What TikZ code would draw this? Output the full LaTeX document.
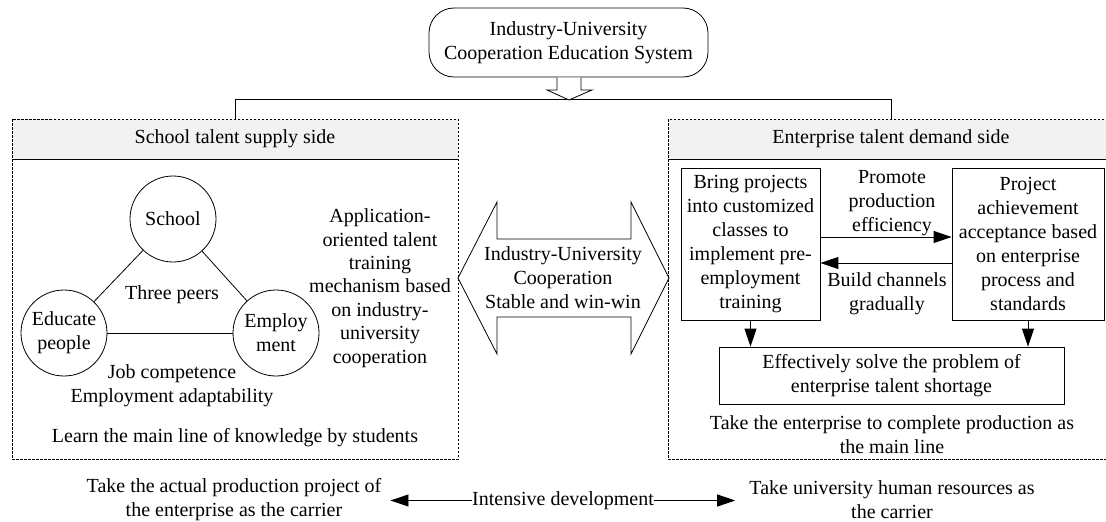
\documentclass[tikz,border=0pt]{standalone}
\usepackage{fontspec}
\setmainfont{Liberation Serif}
\usetikzlibrary{arrows.meta}
\begin{document}
\begin{tikzpicture}[x=1pt,y=-1pt,
  every node/.style={font=\fontsize{20pt}{24pt}\selectfont, align=center, inner sep=0pt},
  ln/.style={line width=0.8pt},
  arr/.style={line width=0.9pt, -{Triangle[length=18pt,width=12pt]}},
  panel/.style={draw, dash pattern=on 2.5pt off 1.5pt, line width=0.6pt},
  hdr/.style={panel, fill=gray!10},
  box/.style={draw, line width=0.8pt},
  circ/.style={draw, circle, line width=0.8pt, minimum size=86pt},
]
\useasboundingbox (0,0) rectangle (1106,522);

% top system box
\node[box, rounded corners=25pt, minimum width=279pt, minimum height=69pt] (sys) at (568.5,42.5) {Industry-University\\Cooperation Education System};

% panels
\node[panel, minimum width=446pt, minimum height=300pt] (lbody) at (235,309) {};
\node[hdr, minimum width=446pt, minimum height=40pt] (lhdr) at (235,139) {School talent supply side};
\node[panel, minimum width=446pt, minimum height=300pt] (rbody) at (891,309) {};
\node[hdr, minimum width=446pt, minimum height=40pt] (rhdr) at (891,139) {Enterprise talent demand side};

% connector from system to panels
\draw[ln] (lhdr.north) -- ++(0,-19) coordinate (hl) -| (rhdr.north);
\draw[ln, fill=white] (557,77.5) -- (557,90) -- (547,90) -- (569,100) -- (592,90) -- (581,90) -- (581,77.5);

% left panel content
\node[circ] (school) at (173,219) {School};
\node[circ] (edu) at (64,333) {Educate\\people};
\node[circ] (emp) at (276,333) {Employ\\ment};
\draw[ln] (school) -- (edu);
\draw[ln] (school) -- (emp);
\draw[ln] (edu) -- (emp);
\node (peers) at (172,295) {Three peers};
\node (job) at (172,386) {Job competence\\Employment adaptability};
\node (learn) at (235,438) {Learn the main line of knowledge by students};
\node[font=\fontsize{20pt}{23.4pt}\selectfont] (appl) at (380,288) {Application-\\oriented talent\\training\\mechanism based\\on industry-\\university\\cooperation};

% middle double arrow
\draw[ln] (458,278) -- (497,202) -- (497,239) -- (631,239) -- (631,202) -- (669,278)
  -- (631,354) -- (631,317) -- (497,317) -- (497,354) -- cycle;
\node (coop) at (563,278) {Industry-University\\Cooperation\\Stable and win-win};

% right panel content
\node[box, minimum width=139pt, minimum height=152pt] (lbox) at (750.5,244) {Bring projects\\into customized\\classes to\\implement pre-\\employment\\training};
\node[box, minimum width=152pt, minimum height=152pt] (rbox) at (1028,244) {Project\\achievement\\acceptance based\\on enterprise\\process and\\standards};
\node (promote) at (892,203) {Promote\\production\\efficiency};
\node (build) at (887,294) {Build channels\\gradually};
\draw[arr] ([yshift=7pt]lbox.east) -- ([yshift=7pt]rbox.west);
\draw[arr] ([yshift=-19pt]rbox.west) -- ([yshift=-19pt]lbox.east);
\node[box, minimum width=345pt, minimum height=57pt] (solve) at (891.5,375.5) {Effectively solve the problem of\\enterprise talent shortage};
\draw[arr] (lbox.south) -- (lbox.south |- solve.north);
\draw[arr] (rbox.south) -- (rbox.south |- solve.north);
\node (mainline) at (892,435) {Take the enterprise to complete production as\\the main line};

% bottom line
\node (intens) at (563,500.5) {Intensive development};
\node[inner xsep=9pt] (ltxt) at (234,500) {Take the actual production project of\\the enterprise as the carrier};
\node[inner xsep=14pt] (rtxt) at (892,500) {Take university human resources as\\the carrier};
\draw[arr] (intens.west) -- (intens.west -| ltxt.east);
\draw[arr] (intens.east) -- (intens.east -| rtxt.west);
\end{tikzpicture}
\end{document}
